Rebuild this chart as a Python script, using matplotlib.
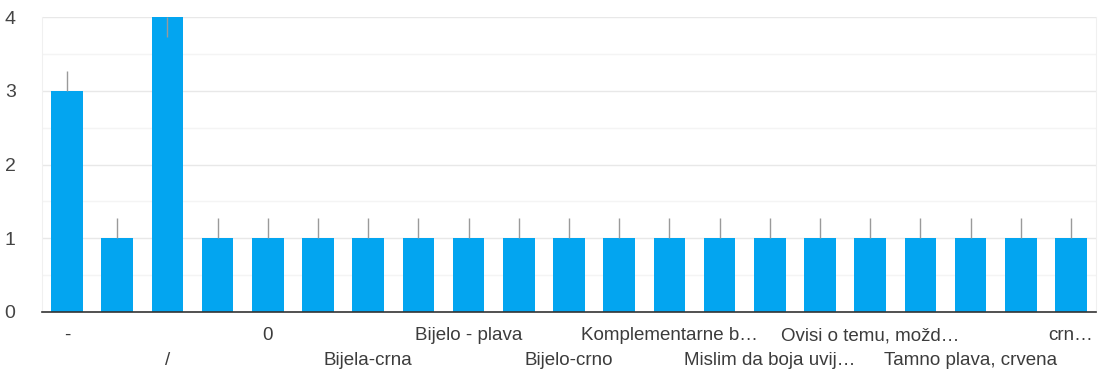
import numpy as np
import matplotlib.pyplot as plt

plt.rcParams['font.family'] = ['Liberation Sans', 'DejaVu Sans']

# categories (only every other label is drawn in the original chart)
labels = ['-', '', '/', '', '0', '', 'Bijela-crna', '', 'Bijelo - plava', '',
          'Bijelo-crno', '', 'Komplementarne b…', '', 'Mislim da boja uvij…', '',
          'Ovisi o temu, možd…', '', 'Tamno plava, crvena', '', 'crn…']
counts = [3, 1, 4, 1, 1, 1, 1, 1, 1, 1, 1, 1, 1, 1, 1, 1, 1, 1, 1, 1, 1]
err_low = [0, 0, 0.27, 0, 0, 0, 0, 0, 0, 0, 0, 0, 0, 0, 0, 0, 0, 0, 0, 0, 0]
err_up = [0.27, 0.28, 0, 0.28, 0.28, 0.28, 0.28, 0.28, 0.28, 0.28, 0.28,
          0.28, 0.28, 0.28, 0.28, 0.28, 0.28, 0.28, 0.28, 0.28, 0.28]

fig = plt.figure(figsize=(11.07, 3.73), dpi=100)
ax = fig.add_axes([42 / 1107, 1 - 312 / 373, (1096 - 42) / 1107, (312 - 17) / 373])

x = np.arange(len(counts))
ax.bar(x, counts, width=0.63, color='#03a5f0', zorder=2)
ax.errorbar(x, counts, yerr=[err_low, err_up], fmt='none', ecolor='#9a9a9a',
            elinewidth=1, capsize=0, zorder=3, clip_on=True)

ax.set_xlim(-0.5, len(counts) - 0.5)
ax.set_ylim(0, 4)
ax.set_yticks([0, 1, 2, 3, 4])
ax.set_yticks([0.5, 1.5, 2.5, 3.5], minor=True)
ax.grid(axis='y', which='major', color='#e8e8e8', linewidth=1, zorder=0)
ax.grid(axis='y', which='minor', color='#f4f4f4', linewidth=1, zorder=0)

# labels alternate between two rows: upper row on major ticks, lower on minor
row1 = [i for i in x if i % 4 == 0]
row2 = [i for i in x if i % 4 == 2]
ax.set_xticks(row1)
ax.set_xticklabels([labels[i] for i in row1])
ax.set_xticks(row2, minor=True)
ax.set_xticklabels([labels[i] for i in row2], minor=True)
ax.tick_params(axis='x', which='major', length=0, pad=11, labelsize=13.5, labelcolor='#3c3c3c')
ax.tick_params(axis='x', which='minor', length=0, pad=29, labelsize=13.5, labelcolor='#3c3c3c')
ax.tick_params(axis='y', which='both', length=0, pad=19, labelsize=14, labelcolor='#444444')

for side in ['left', 'right']:
    ax.spines[side].set_color('#f0f0f0')
ax.spines['top'].set_visible(False)
ax.spines['bottom'].set_color('#333333')
ax.spines['bottom'].set_linewidth(1.2)

fig.savefig('out.png', dpi=100)
